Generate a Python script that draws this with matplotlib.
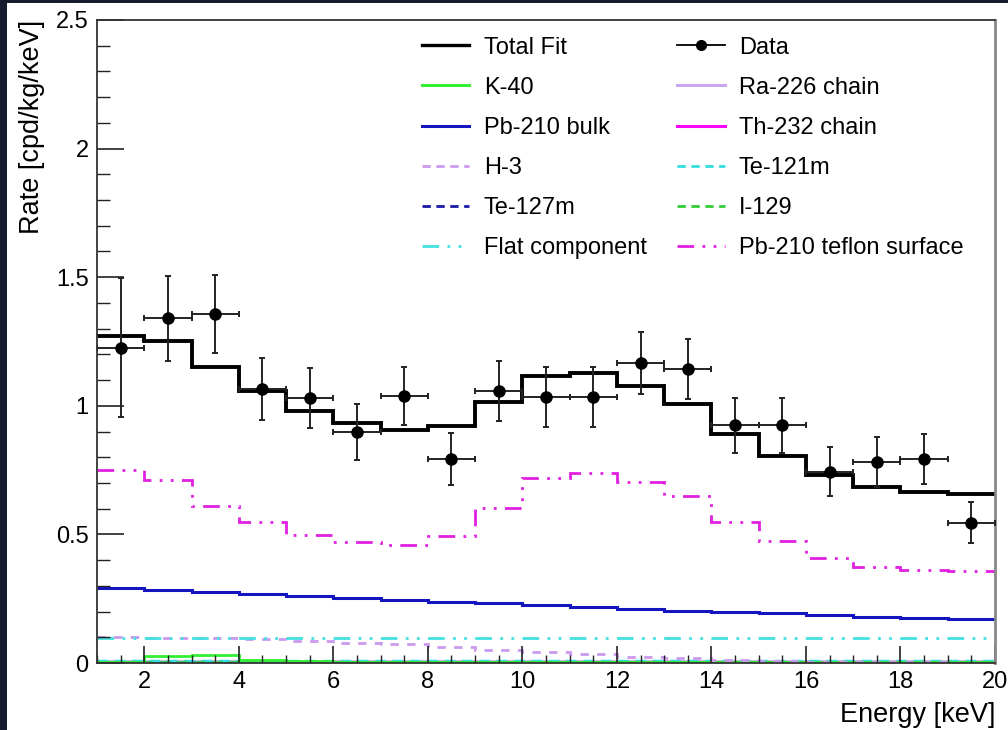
import numpy as np
import matplotlib
matplotlib.use('Agg')
import matplotlib.pyplot as plt
from matplotlib.patches import Rectangle
from matplotlib.lines import Line2D
from matplotlib.ticker import MultipleLocator

plt.rcParams['font.family'] = ['Liberation Sans', 'DejaVu Sans']

# bins: 1..20 keV, 1 keV wide
edges = np.arange(1, 21)
centers = edges[:-1] + 0.5

data_rate = [1.225, 1.34, 1.357, 1.065, 1.03, 0.898, 1.038, 0.793, 1.058, 1.034,
             1.034, 1.166, 1.143, 0.925, 0.925, 0.743, 0.781, 0.793, 0.545]
data_err = [0.27, 0.165, 0.15, 0.12, 0.117, 0.11, 0.113, 0.10, 0.117, 0.115,
            0.115, 0.12, 0.117, 0.107, 0.107, 0.095, 0.098, 0.097, 0.08]

total_fit = [1.27, 1.252, 1.151, 1.058, 0.98, 0.933, 0.906, 0.921, 1.015, 1.116,
             1.127, 1.077, 1.007, 0.89, 0.805, 0.731, 0.684, 0.665, 0.657]
pb210_teflon = [0.75, 0.711, 0.61, 0.547, 0.498, 0.47, 0.459, 0.494, 0.602, 0.718,
                0.739, 0.704, 0.649, 0.548, 0.476, 0.41, 0.375, 0.362, 0.359]
pb210_bulk = [0.293, 0.284, 0.277, 0.268, 0.26, 0.254, 0.245, 0.238, 0.232, 0.226,
              0.219, 0.21, 0.203, 0.197, 0.193, 0.187, 0.18, 0.174, 0.17]
flat_comp = [0.098] * 19
h3 = [0.100, 0.098, 0.096, 0.093, 0.087, 0.078, 0.072, 0.062, 0.05, 0.042,
      0.034, 0.025, 0.018, 0.012, 0.008, 0.005, 0.003, 0.002, 0.001]
k40 = [0.005, 0.027, 0.033, 0.01, 0.006, 0.003, 0.002, 0.002, 0.002, 0.002,
       0.002, 0.002, 0.002, 0.002, 0.002, 0.002, 0.002, 0.002, 0.002]
ra226 = [0.004] * 19
th232 = [0.003] * 19
te121m = [0.006] * 19
te127m = [0.003] * 19
i129 = [0.005] * 19

DASH = (0, (3, 2))
DASHDOT3 = (0, (6, 3, 1, 3, 1, 3))

fig = plt.figure(figsize=(10.08, 7.3), dpi=100)
fig.patch.set_facecolor('#141c2e')
fig.patches.append(Rectangle((7 / 1008, 0), 1, 1 - 3 / 730, transform=fig.transFigure,
                             facecolor='white', edgecolor='none', zorder=-5))

ax = fig.add_axes([97 / 1008, 1 - 663 / 730, 898 / 1008, 643 / 730])
ax.set_zorder(1)

# near-zero components first
ax.stairs(ra226, edges, baseline=None, color='#c9a8f0', lw=2.5)
ax.stairs(th232, edges, baseline=None, color='#ff00ff', lw=2.5)
ax.stairs(te127m, edges, baseline=None, color='#1a1aa6', lw=2.5, linestyle=DASH)
ax.stairs(te121m, edges, baseline=None, color='#33dddd', lw=2.5, linestyle=DASH)
ax.stairs(i129, edges, baseline=None, color='#33cc66', lw=2.5, linestyle=(2, (3, 2)))
ax.stairs(k40, edges, baseline=None, color='#33ee33', lw=2)
ax.stairs(h3, edges, baseline=None, color='#cc99ee', lw=2, linestyle=(0, (3, 3)))
ax.stairs(flat_comp, edges, baseline=None, color='#44e0e0', lw=2, linestyle=DASHDOT3)
ax.stairs(pb210_bulk, edges, baseline=None, color='#1515c0', lw=2.2)
ax.stairs(pb210_teflon, edges, baseline=None, color='#e020e0', lw=2, linestyle=DASHDOT3)
ax.stairs(total_fit, edges, baseline=None, color='black', lw=2.8)

ax.errorbar(centers, data_rate, xerr=0.5, yerr=data_err, fmt='o', color='black',
            ecolor='#222222', ms=8, elinewidth=1.4, capsize=2.5, capthick=1.4, zorder=5)

ax.set_xlim(1, 20)
ax.set_ylim(0, 2.5)
ax.xaxis.set_major_locator(MultipleLocator(2))
ax.xaxis.set_minor_locator(MultipleLocator(0.5))
ax.yaxis.set_minor_locator(MultipleLocator(0.1))
ax.set_yticks([0, 0.5, 1, 1.5, 2, 2.5])
ax.set_yticklabels(['0', '0.5', '1', '1.5', '2', '2.5'])
ax.tick_params(axis='both', which='both', direction='in', top=False, right=False,
               labelsize=17, color='#222222')
ax.tick_params(axis='y', which='major', length=19.5, width=1.2, pad=6)
ax.tick_params(axis='y', which='minor', length=9.5, width=1.0)
ax.tick_params(axis='x', which='major', length=12, width=1.2, pad=6)
ax.tick_params(axis='x', which='minor', length=6, width=1.0)
for s in ['left', 'bottom', 'top']:
    ax.spines[s].set_linewidth(1.3)
    ax.spines[s].set_color('#333333')
ax.spines['right'].set_linewidth(2)
ax.spines['right'].set_color('#888888')

ax.set_ylabel('Rate [cpd/kg/keV]', fontsize=19.5, loc='top', labelpad=8)
ax.set_xlabel('Energy [keV]', fontsize=19.5, loc='right', labelpad=6)

handles = [
    Line2D([], [], color='black', lw=2.4),
    Line2D([], [], color='#33ee33', lw=2.2),
    Line2D([], [], color='#1515c0', lw=2.2),
    Line2D([], [], color='#cc99ee', lw=2, linestyle=DASH),
    Line2D([], [], color='#1a1aa6', lw=2, linestyle=DASH),
    Line2D([], [], color='#44e0e0', lw=2, linestyle=DASHDOT3),
    Line2D([], [], color='black', lw=1.3, marker='o', ms=7),
    Line2D([], [], color='#c9a8f0', lw=2.2),
    Line2D([], [], color='#ff00ff', lw=2.2),
    Line2D([], [], color='#33dddd', lw=2, linestyle=DASH),
    Line2D([], [], color='#33cc33', lw=2, linestyle=DASH),
    Line2D([], [], color='#e020e0', lw=2, linestyle=DASHDOT3),
]
labels = ['Total Fit', 'K-40', 'Pb-210 bulk', 'H-3', 'Te-127m', 'Flat component',
          'Data', 'Ra-226 chain', 'Th-232 chain', 'Te-121m', 'I-129', 'Pb-210 teflon surface']
ax.legend(handles, labels, ncol=2, frameon=False, fontsize=17,
          loc='upper left', bbox_to_anchor=(0.343, 1.0),
          handlelength=2.03, handletextpad=0.6, columnspacing=1.27, labelspacing=0.77,
          borderaxespad=0.3)

fig.savefig('out.png', dpi=100, facecolor=fig.get_facecolor())
